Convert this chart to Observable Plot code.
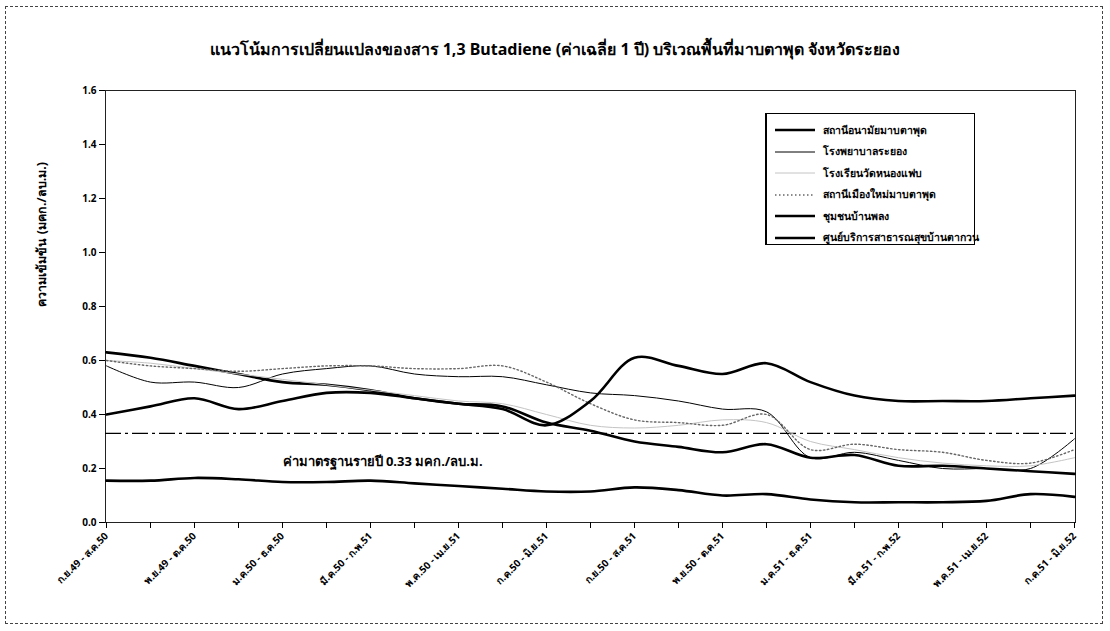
<!DOCTYPE html>
<html><head><meta charset="utf-8">
<script src="https://cdn.jsdelivr.net/npm/d3@7"></script>
<script src="https://cdn.jsdelivr.net/npm/@observablehq/plot@0.6"></script>
<style>
body{margin:0;background:#fff;font-family:"Noto Sans","DejaVu Sans",sans-serif;}
#wrap{position:relative;width:1110px;height:631px;overflow:hidden;}
#border{position:absolute;left:5px;top:6px;width:1098px;height:618px;border:1px dashed #444;box-sizing:border-box;}
#title{position:absolute;left:0;top:37px;width:1110px;text-align:center;font-weight:bold;font-size:16px;color:#000;}
#chart{position:absolute;left:0;top:70px;}
#legend{position:absolute;left:765px;top:113px;width:210px;height:132px;border:1.5px solid #000;border-left-width:2.5px;background:#fff;box-sizing:border-box;font-size:10.5px;font-weight:bold;}
.li{position:absolute;left:6px;height:20px;display:flex;align-items:center;white-space:nowrap;}
.li svg{margin-right:6px;}
</style></head>
<body>
<div id="wrap">
<div id="border"></div>
<div id="title"></div>
<div id="chart"></div>
<div id="legend"></div>
</div>
<script>
const titleText = "แนวโน้มการเปลี่ยนแปลงของสาร 1,3 Butadiene (ค่าเฉลี่ย 1 ปี) บริเวณพื้นที่มาบตาพุด จังหวัดระยอง";
const yLabel = "ความเข้มข้น (มคก./ลบ.ม.)";
const refValue = 0.33;
const refLabel = "ค่ามาตรฐานรายปี 0.33 มคก./ลบ.ม.";

// 23 rolling 12-month periods (monthly steps); labels shown every other period
const periods = [
 "ก.ย.49 - ส.ค.50","ต.ค.49 - ก.ย.50","พ.ย.49 - ต.ค.50","ธ.ค.49 - พ.ย.50","ม.ค.50 - ธ.ค.50",
 "ก.พ.50 - ม.ค.51","มี.ค.50 - ก.พ.51","เม.ย.50 - มี.ค.51","พ.ค.50 - เม.ย.51","มิ.ย.50 - พ.ค.51",
 "ก.ค.50 - มิ.ย.51","ส.ค.50 - ก.ค.51","ก.ย.50 - ส.ค.51","ต.ค.50 - ก.ย.51","พ.ย.50 - ต.ค.51",
 "ธ.ค.50 - พ.ย.51","ม.ค.51 - ธ.ค.51","ก.พ.51 - ม.ค.52","มี.ค.51 - ก.พ.52","เม.ย.51 - มี.ค.52",
 "พ.ค.51 - เม.ย.52","มิ.ย.51 - พ.ค.52","ก.ค.51 - มิ.ย.52"
];
const shownTicks = periods.filter((d, i) => i % 2 === 0);
const yTicks = [0, 0.2, 0.4, 0.6, 0.8, 1.0, 1.2, 1.4, 1.6];

const seriesNames = [
 "สถานีอนามัยมาบตาพุด",
 "โรงพยาบาลระยอง",
 "โรงเรียนวัดหนองแฟบ",
 "สถานีเมืองใหม่มาบตาพุด",
 "ชุมชนบ้านพลง",
 "ศูนย์บริการสาธารณสุขบ้านตากวน"
];
const s1 = [0.63,0.61,0.58,0.55,0.52,0.51,0.49,0.46,0.44,0.43,0.37,0.34,0.30,0.28,0.26,0.29,0.24,0.25,0.21,0.21,0.20,0.19,0.18];
const s2 = [0.58,0.52,0.52,0.50,0.55,0.57,0.58,0.55,0.54,0.54,0.51,0.48,0.47,0.45,0.42,0.41,0.24,0.26,0.23,0.20,0.20,0.20,0.31];
const s3 = [0.60,0.59,0.57,0.55,0.53,0.51,0.49,0.47,0.45,0.44,0.40,0.36,0.35,0.36,0.38,0.37,0.30,0.27,0.24,0.22,0.21,0.21,0.24];
const s4 = [0.60,0.58,0.57,0.56,0.57,0.58,0.58,0.57,0.57,0.58,0.52,0.44,0.38,0.37,0.36,0.40,0.27,0.29,0.27,0.26,0.23,0.22,0.27];
const s5 = [0.40,0.43,0.46,0.42,0.45,0.48,0.48,0.46,0.44,0.42,0.36,0.45,0.61,0.58,0.55,0.59,0.52,0.47,0.45,0.45,0.45,0.46,0.47];
const s6 = [0.155,0.155,0.165,0.16,0.15,0.15,0.155,0.145,0.135,0.125,0.115,0.115,0.13,0.12,0.10,0.105,0.085,0.075,0.075,0.075,0.08,0.105,0.095];
const allSeries = [s1, s2, s3, s4, s5, s6];

const styles = [
 {stroke:"#000", strokeWidth:2.6},
 {stroke:"#000", strokeWidth:1},
 {stroke:"#c4c4c4", strokeWidth:1},
 {stroke:"#666", strokeWidth:1.4, strokeDasharray:"1.5,2.5"},
 {stroke:"#000", strokeWidth:2.6},
 {stroke:"#000", strokeWidth:2.6}
];

document.getElementById("title").textContent = titleText;

const rows = allSeries.map((vals, k) => vals.map((v, i) => ({period: periods[i], value: v, series: seriesNames[k]})));

const marks = [
 Plot.frame({stroke:"#222", strokeWidth:1}),
 Plot.ruleY([refValue], {stroke:"#000", strokeWidth:1.3, strokeDasharray:"16,4,3,4"}),
 Plot.text([refLabel], {x: () => periods[4], y: () => refValue, text: d => d, dy: 28, textAnchor:"start", fontSize:13, fontWeight:"bold"}),
 ...rows.map((r, k) => Plot.line(r, {x:"period", y:"value", curve:"catmull-rom", ...styles[k]})),
 Plot.axisY({ticks: yTicks, tickFormat: d3.format(".1f"), tickSize:6, fontWeight:"bold", fontSize:10, label:null}),
 Plot.axisX({ticks: periods, tickFormat: () => "", tickSize:6, label:null}),
 Plot.axisX({ticks: shownTicks, tickRotate:-45, tickSize:6, fontSize:10, fontWeight:"bold", label:null}),
 Plot.text([yLabel], {frameAnchor:"left", text: d => d, rotate:-90, dx:-64, fontSize:12.5, fontWeight:"bold"})
];

const chart = Plot.plot({
 width:1110, height:561,
 marginLeft:105, marginRight:35, marginTop:20, marginBottom:109,
 style:{fontFamily:"'Noto Sans','DejaVu Sans',sans-serif", color:"#000", background:"transparent"},
 x:{type:"point", domain: periods, padding:0},
 y:{domain:[0, 1.6]},
 marks
});
document.getElementById("chart").appendChild(chart);

// legend
const lg = document.getElementById("legend");
seriesNames.forEach((name, k) => {
 const st = styles[k];
 const div = document.createElement("div");
 div.className = "li";
 div.style.top = (6 + k * 21.5) + "px";
 div.innerHTML = `<svg width="44" height="10"><line x1="2" x2="42" y1="5" y2="5" stroke="${st.stroke}" stroke-width="${st.strokeWidth}" ${st.strokeDasharray ? `stroke-dasharray="${st.strokeDasharray}"` : ""}/></svg><span>${name}</span>`;
 lg.appendChild(div);
});
</script>
</body></html>
